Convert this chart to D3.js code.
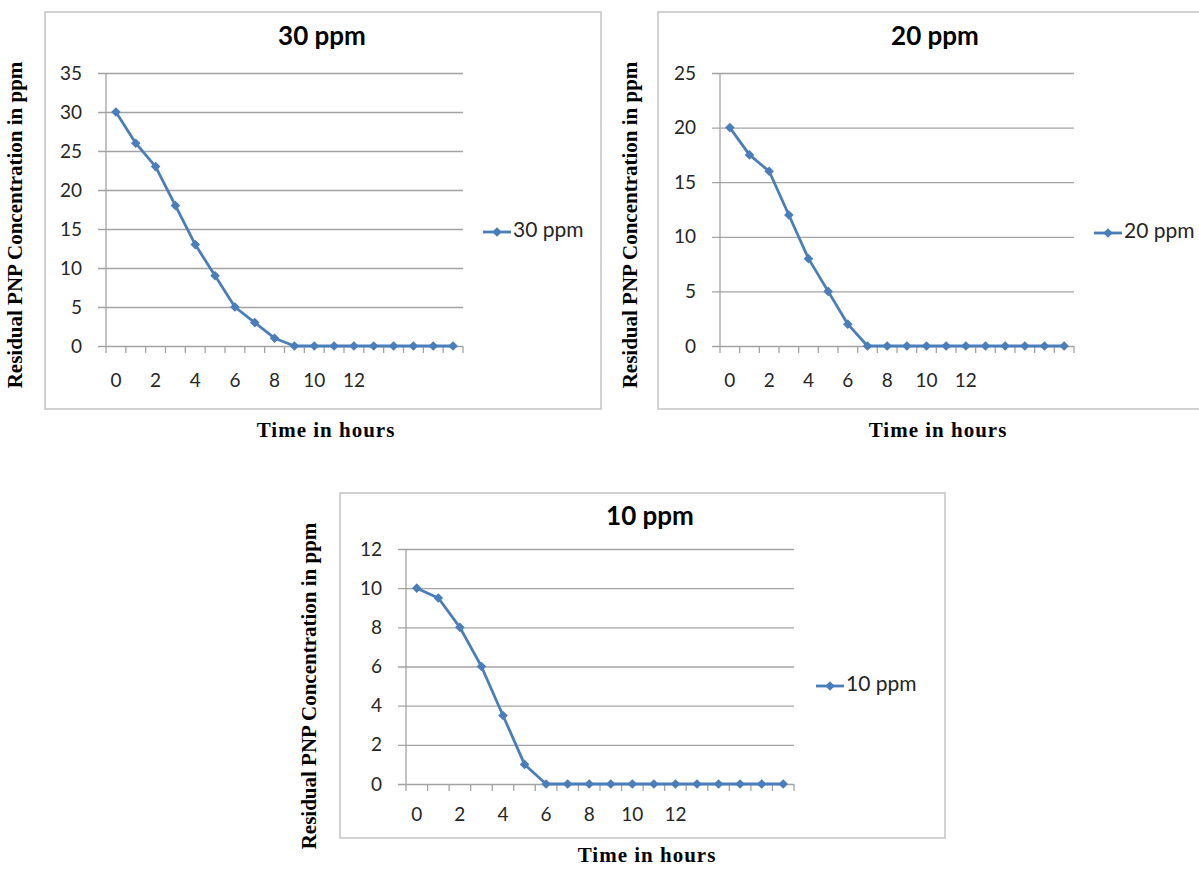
<!DOCTYPE html>
<html lang="en">
<head>
    <meta charset="UTF-8">
    <title>Residual PNP Concentration</title>
    <script src="https://d3js.org/d3.v7.min.js"></script>
    <style>
        body { margin: 0; background: #fff; }
        svg { display: block; }
        .tick-label { font-family: Lato, sans-serif; font-size: 19px; fill: #262626; }
        .chart-title { font-family: Lato, sans-serif; font-size: 26px; font-weight: bold; fill: #000; }
        .legend-text { font-family: Lato, sans-serif; font-size: 21px; fill: #262626; }
        .axis-title { font-family: "Liberation Serif", "Times New Roman", serif; font-weight: bold; fill: #000; }
    </style>
</head>
<body>
    <svg id="canvas"></svg>

    <script>
        // category labels (only every other hour up to 12 is labelled)
        const xLabels = ["0", "", "2", "", "4", "", "6", "", "8", "", "10", "", "12", "", "", "", "", ""];

        const conc30 = [30, 26, 23, 18, 13, 9, 5, 3, 1, 0, 0, 0, 0, 0, 0, 0, 0, 0];
        const conc20 = [20, 17.5, 16, 12, 8, 5, 2, 0, 0, 0, 0, 0, 0, 0, 0, 0, 0, 0];
        const conc10 = [10, 9.5, 8, 6, 3.5, 1, 0, 0, 0, 0, 0, 0, 0, 0, 0, 0, 0, 0];

        const yTicks30 = [0, 5, 10, 15, 20, 25, 30, 35];
        const yTicks20 = [0, 5, 10, 15, 20, 25];
        const yTicks10 = [0, 2, 4, 6, 8, 10, 12];

        const width = 1199;
        const height = 869;
        const lineColor = "#4a7ebb";
        const svg = d3.select("#canvas").attr("width", width).attr("height", height);

        const diamond = "M0,-4.8L4.8,0L0,4.8L-4.8,0Z";

        function drawChart(cfg) {
            const g = svg.append("g");

            // chart border
            g.append("rect")
                .attr("x", cfg.box[0]).attr("y", cfg.box[1])
                .attr("width", cfg.box[2]).attr("height", cfg.box[3])
                .attr("fill", "#fff")
                .attr("stroke", "#c4c4c4")
                .attr("stroke-width", 1.5);

            const x = d3.scaleBand()
                .domain(d3.range(cfg.values.length))
                .range([cfg.plot[0], cfg.plot[1]]);

            const y = d3.scaleLinear()
                .domain([0, d3.max(cfg.yTicks)])
                .range([cfg.plot[3], cfg.plot[2]]);

            // horizontal gridlines + y labels
            const yAxis = d3.axisLeft(y)
                .tickValues(cfg.yTicks)
                .tickSize(-(cfg.plot[1] - cfg.plot[0]))
                .tickPadding(24);

            const ya = g.append("g")
                .attr("transform", `translate(${cfg.plot[0]},0)`)
                .call(yAxis);
            ya.select(".domain").remove();
            ya.selectAll(".tick line")
                .attr("x1", -8)
                .attr("stroke", "#a3a3a3")
                .attr("stroke-width", 1.3);
            ya.selectAll(".tick text")
                .attr("class", "tick-label")
                .attr("font-family", null).attr("font-size", null);

            // vertical axis line
            g.append("line")
                .attr("x1", cfg.plot[0]).attr("x2", cfg.plot[0])
                .attr("y1", cfg.plot[2]).attr("y2", cfg.plot[3] + 7)
                .attr("stroke", "#a3a3a3")
                .attr("stroke-width", 1.3);

            // tick marks at category boundaries
            const bounds = x.domain().map(d => x(d)).concat([cfg.plot[1]]);
            g.append("g").selectAll("line")
                .data(bounds.slice(1))
                .join("line")
                .attr("x1", d => d).attr("x2", d => d)
                .attr("y1", cfg.plot[3]).attr("y2", cfg.plot[3] + 7)
                .attr("stroke", "#a3a3a3")
                .attr("stroke-width", 1.3);

            // category labels
            g.append("g").selectAll("text")
                .data(xLabels)
                .join("text")
                .attr("class", "tick-label")
                .attr("x", (d, i) => x(i) + x.bandwidth() / 2)
                .attr("y", cfg.plot[3] + cfg.labelGap)
                .attr("text-anchor", "middle")
                .attr("dominant-baseline", "middle")
                .text(d => d);

            // the series
            const line = d3.line()
                .x((d, i) => x(i) + x.bandwidth() / 2)
                .y(d => y(d));

            g.append("path")
                .datum(cfg.values)
                .attr("fill", "none")
                .attr("stroke", lineColor)
                .attr("stroke-width", 2.8)
                .attr("stroke-linejoin", "round")
                .attr("d", line);

            g.append("g").selectAll("path")
                .data(cfg.values)
                .join("path")
                .attr("d", diamond)
                .attr("fill", lineColor)
                .attr("transform", (d, i) => `translate(${x(i) + x.bandwidth() / 2},${y(d)})`);

            // title
            g.append("text")
                .attr("class", "chart-title")
                .attr("x", cfg.titlePos[0]).attr("y", cfg.titlePos[1])
                .attr("text-anchor", "middle")
                .attr("dominant-baseline", "middle")
                .text(cfg.name);

            // legend
            const lg = g.append("g").attr("transform", `translate(${cfg.legendPos[0]},${cfg.legendPos[1]})`);
            lg.append("line")
                .attr("x1", 0).attr("x2", 28)
                .attr("stroke", lineColor).attr("stroke-width", 2.8);
            lg.append("path")
                .attr("d", diamond)
                .attr("fill", lineColor)
                .attr("transform", "translate(14,0)");
            lg.append("text")
                .attr("class", "legend-text")
                .attr("x", 30)
                .attr("dominant-baseline", "middle")
                .text(cfg.name);

            // axis titles
            g.append("text")
                .attr("class", "axis-title")
                .attr("transform", `translate(${cfg.yTitlePos[0]},${cfg.yTitlePos[1]}) rotate(-90)`)
                .attr("text-anchor", "middle")
                .attr("dominant-baseline", "middle")
                .style("font-size", "21px")
                .text("Residual PNP Concentration in ppm");

            g.append("text")
                .attr("class", "axis-title")
                .attr("x", cfg.xTitlePos[0]).attr("y", cfg.xTitlePos[1])
                .attr("text-anchor", "middle")
                .attr("dominant-baseline", "middle")
                .style("font-size", "21px")
                .style("letter-spacing", "1px")
                .text("Time in hours");
        }

        drawChart({
            name: "30 ppm", values: conc30, yTicks: yTicks30,
            box: [45, 12, 556, 397], plot: [106, 463, 73, 346],
            labelGap: 36, titlePos: [322, 38], legendPos: [483, 232],
            yTitlePos: [17, 225], xTitlePos: [326, 432]
        });

        drawChart({
            name: "20 ppm", values: conc20, yTicks: yTicks20,
            box: [658, 12, 556, 397], plot: [720, 1074, 73, 346],
            labelGap: 36, titlePos: [935, 38], legendPos: [1094, 233],
            yTitlePos: [632, 225], xTitlePos: [938, 432]
        });

        drawChart({
            name: "10 ppm", values: conc10, yTicks: yTicks10,
            box: [340, 493, 605, 345], plot: [406, 794, 549, 784],
            labelGap: 32, titlePos: [650, 518], legendPos: [816, 686],
            yTitlePos: [311, 686], xTitlePos: [647, 857]
        });
    </script>
</body>
</html>
